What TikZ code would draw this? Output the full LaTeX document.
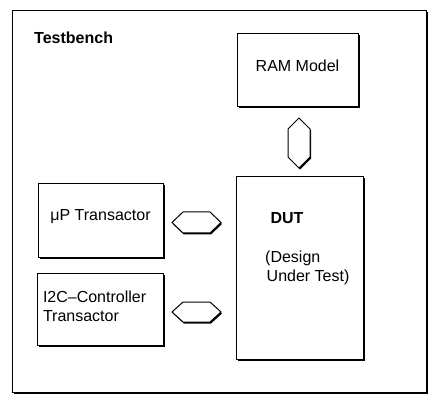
\documentclass[tikz,border=0pt]{standalone}
\usepackage{fontspec}
\setmainfont{Liberation Sans}
\usetikzlibrary{positioning,shadows,calc}

\tikzset{
  block/.style={draw, line width=1pt, fill=white, inner sep=0pt,
    drop shadow={shadow xshift=1.5pt, shadow yshift=-1.5pt, opacity=1, fill=black}},
  bus/.style={draw, line width=1pt, fill=white, line join=miter,
    drop shadow={shadow xshift=1pt, shadow yshift=-1.5pt, opacity=1, fill=black}},
  txt/.style={font=\fontsize{16}{19}\selectfont},
  bold/.style={font=\fontsize{16}{19}\selectfont\bfseries}
}

\begin{document}
\begin{tikzpicture}[x=1pt,y=-1pt,every node/.style={txt}]
  \useasboundingbox (0,0) rectangle (439,406);
  %Frame
  \node[block, minimum width=414pt, minimum height=381pt] (bench) at (219,201.5) {};
  \node[bold, anchor=base west, inner sep=0pt] (benchname) at (34,44) {Testbench};

  %Blocks
  \node[block, minimum width=121pt, minimum height=73pt, text depth=9pt] (ram) at (297.5,70.5) {RAM Model};
  \node[block, minimum width=127pt, minimum height=182pt] (dut) at (299.5,268) {};
  \node[block, minimum width=125pt, minimum height=73pt, text depth=11pt] (mup) at (100.5,220.5) {μP Transactor};
  \node[block, minimum width=126pt, minimum height=72pt, inner xsep=6pt, text width=114pt,
    align=left, text depth=25pt] (i2c) at (100,309) {I2C–Controller\\Transactor};

  \node[bold] (dutname) at (287,218) {DUT};
  \node[anchor=north west, inner sep=0pt, align=left] (dutlong) at (265,251)
    {(Design\\\hspace*{1.5pt}Under Test)};

  %Buses
  \coordinate (busA) at (196.5,222.5);
  \coordinate (busB) at (196.5,312);
  \coordinate (busC) at (299,143);
  \draw[bus] ($(busA)+(-24.5,0)$) -- ++(11,-10.5) -- ++(27,0) -- ++(11,10.5)
    -- ++(-11,10.5) -- ++(-27,0) -- cycle;
  \draw[bus] ($(busB)+(-24.5,0)$) -- ++(11,-10) -- ++(27,0) -- ++(11,10)
    -- ++(-11,10) -- ++(-27,0) -- cycle;
  \draw[bus] ($(busC)+(0,-25)$) -- ++(11,11) -- ++(0,28) -- ++(-11,11)
    -- ++(-11,-11) -- ++(0,-28) -- cycle;
\end{tikzpicture}
\end{document}
